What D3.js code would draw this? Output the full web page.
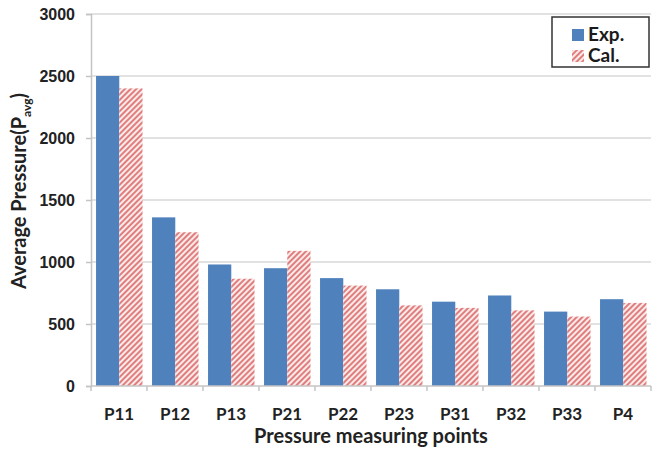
<!DOCTYPE html>
<html>
<head>
<meta charset="utf-8">
<script src="https://cdn.jsdelivr.net/npm/d3@7"></script>
<style>
  body { margin: 0; background: #fff; }
  svg { display: block; font-family: Lato, "Open Sans", sans-serif; }
</style>
</head>
<body>
<div id="chart"></div>
<script>
// data
const categories = ['P11', 'P12', 'P13', 'P21', 'P22', 'P23', 'P31', 'P32', 'P33', 'P4'];
const expValues = [2500, 1360, 980, 950, 870, 780, 680, 730, 600, 700];
const calValues = [2400, 1240, 865, 1090, 810, 650, 630, 610, 560, 670];
const seriesNames = ['Exp.', 'Cal.'];
const yTicks = [0, 500, 1000, 1500, 2000, 2500, 3000];

const W = 660, H = 449;
const margin = { top: 14, right: 9, bottom: 63, left: 91 };
const width = W - margin.left - margin.right;
const height = H - margin.top - margin.bottom;

const svg = d3.select('#chart').append('svg')
  .attr('width', W)
  .attr('height', H);

// hatch pattern for the calculated series
const defs = svg.append('defs');
const pat = defs.append('pattern')
  .attr('id', 'hatch')
  .attr('patternUnits', 'userSpaceOnUse')
  .attr('width', 4)
  .attr('height', 4)
  .attr('patternTransform', 'rotate(45)');
pat.append('rect').attr('width', 4).attr('height', 4).attr('fill', '#fbeaea');
pat.append('line')
  .attr('x1', 1).attr('y1', 0).attr('x2', 1).attr('y2', 4)
  .attr('stroke', '#dd7272')
  .attr('stroke-width', 1.8);

const g = svg.append('g')
  .attr('transform', `translate(${margin.left},${margin.top})`);

const x = d3.scaleBand().domain(categories).range([0, width]).padding(0);
const x1 = d3.scaleBand().domain(seriesNames)
  .range([x.bandwidth() * 0.09, x.bandwidth() * 0.92]);
const y = d3.scaleLinear().domain([0, 3000]).range([height, 0]);

// grid lines
g.append('g')
  .selectAll('line')
  .data(yTicks.filter((d) => d > 0))
  .enter()
  .append('line')
  .attr('x1', 0)
  .attr('x2', width)
  .attr('y1', (d) => y(d))
  .attr('y2', (d) => y(d))
  .attr('stroke', '#d9d9d9')
  .attr('stroke-width', 1.5);

// y axis
const yAxis = g.append('g')
  .call(d3.axisLeft(y).tickValues(yTicks).tickFormat(d3.format('d'))
    .tickSize(5).tickPadding(11));
yAxis.select('.domain').attr('stroke', '#c4c4c4').attr('stroke-width', 1.5);
yAxis.selectAll('.tick line').attr('stroke', '#c4c4c4').attr('stroke-width', 1.5);
yAxis.selectAll('text')
  .attr('fill', '#222')
  .style('font-size', '16px')
  .style('font-weight', 'bold');

// bars
const rows = categories.map((c, i) => ({ cat: c, vals: [expValues[i], calValues[i]] }));
const groups = g.selectAll('.grp')
  .data(rows)
  .enter()
  .append('g')
  .attr('transform', (d) => `translate(${x(d.cat)},0)`);
groups.selectAll('rect')
  .data((d) => d.vals.map((v, j) => ({ name: seriesNames[j], v })))
  .enter()
  .append('rect')
  .attr('x', (d) => x1(d.name))
  .attr('y', (d) => y(d.v))
  .attr('width', x1.bandwidth())
  .attr('height', (d) => height - y(d.v))
  .attr('fill', (d) => (d.name === 'Exp.' ? '#4f81bd' : 'url(#hatch)'));

// x axis
const xAxis = g.append('g')
  .attr('transform', `translate(0,${height})`);
xAxis.append('line')
  .attr('x1', 0).attr('x2', width)
  .attr('stroke', '#c4c4c4').attr('stroke-width', 1.5);
xAxis.selectAll('.tk')
  .data(categories.concat(['end']))
  .enter()
  .append('line')
  .attr('x1', (d, i) => i * x.step())
  .attr('x2', (d, i) => i * x.step())
  .attr('y1', 0).attr('y2', 5)
  .attr('stroke', '#c4c4c4').attr('stroke-width', 1.5);
xAxis.selectAll('.lbl')
  .data(categories)
  .enter()
  .append('text')
  .attr('x', (d) => x(d) + x.bandwidth() / 2)
  .attr('y', 34)
  .attr('text-anchor', 'middle')
  .attr('fill', '#222')
  .style('font-size', '17px')
  .style('font-weight', 'bold')
  .text((d) => d);

// axis titles
g.append('text')
  .attr('x', width / 2)
  .attr('y', height + 57)
  .attr('text-anchor', 'middle')
  .attr('fill', '#222')
  .style('font-size', '20px')
  .style('font-weight', 'bold')
  .text('Pressure measuring points');

const yt = svg.append('text')
  .attr('transform', `translate(26,${margin.top + 177}) rotate(-90)`)
  .attr('text-anchor', 'middle')
  .attr('fill', '#222')
  .style('font-size', '20px')
  .style('font-weight', 'bold');
yt.append('tspan').text('Average Pressure(P');
yt.append('tspan').attr('dy', 5).style('font-size', '12px').text('avg');
yt.append('tspan').attr('dy', -5).text(')');

// legend
const lg = g.append('g').attr('transform', `translate(${width - 99},3)`);
lg.append('rect')
  .attr('width', 97).attr('height', 50)
  .attr('fill', '#fff')
  .attr('stroke', '#333')
  .attr('stroke-width', 1.5);
seriesNames.forEach((n, i) => {
  lg.append('rect')
    .attr('x', 20).attr('y', 12 + i * 21)
    .attr('width', 12).attr('height', 12)
    .attr('fill', n === 'Exp.' ? '#4f81bd' : 'url(#hatch)');
  lg.append('text')
    .attr('x', 36).attr('y', 24 + i * 21)
    .attr('fill', '#1a1a1a')
    .style('font-size', '19px')
    .style('font-weight', 'bold')
    .text(n);
});
</script>
</body>
</html>
